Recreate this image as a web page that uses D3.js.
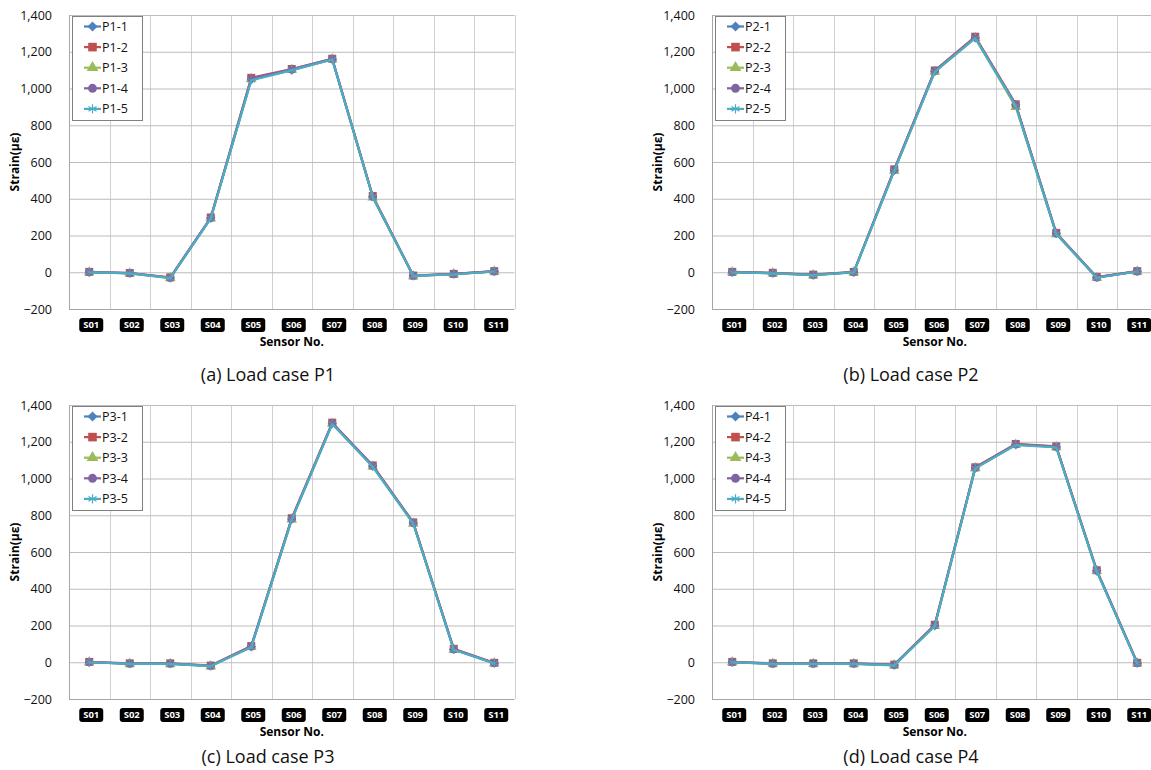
<!DOCTYPE html>
<html>
  <head>
    <meta charset="utf-8">
    <title>Strain by sensor</title>
    <script src="https://d3js.org/d3.v7.min.js"></script>
    <style>
      body { margin: 0; background: #fff; }
      svg { display: block; font-family: "Open Sans", sans-serif; }
    </style>
  </head>
  <body>
    <div class="charts"></div>
    <script>
      /*
       * data
       */
      var sensors = ["S01", "S02", "S03", "S04", "S05", "S06", "S07", "S08", "S09", "S10", "S11"];
      var yTicks = [-200, 0, 200, 400, 600, 800, 1000, 1200, 1400];
      var captions = ["(a) Load case P1", "(b) Load case P2", "(c) Load case P3", "(d) Load case P4"];

      var p1_1 = [0, -5, -30, 295, 1048, 1100, 1158, 412, -20, -10, 5];
      var p1_2 = [2, -4, -28, 298, 1058, 1106, 1162, 415, -18, -9, 6];
      var p1_3 = [0, -6, -31, 294, 1052, 1102, 1160, 408, -21, -10, 4];
      var p1_4 = [1, -5, -30, 296, 1055, 1104, 1161, 411, -19, -9, 5];
      var p1_5 = [0, -6, -32, 293, 1045, 1100, 1158, 410, -20, -11, 4];

      var p2_1 = [0, -5, -15, 0, 555, 1093, 1276, 912, 212, -28, 5];
      var p2_2 = [2, -3, -13, 2, 560, 1098, 1282, 914, 214, -26, 6];
      var p2_3 = [0, -5, -16, -1, 553, 1092, 1275, 900, 208, -30, 4];
      var p2_4 = [1, -4, -14, 1, 557, 1096, 1279, 910, 211, -28, 5];
      var p2_5 = [0, -6, -16, 0, 552, 1090, 1274, 906, 209, -30, 4];

      var p3_1 = [0, -8, -8, -20, 85, 780, 1300, 1068, 758, 70, -5];
      var p3_2 = [2, -6, -6, -18, 88, 784, 1304, 1071, 761, 73, -3];
      var p3_3 = [0, -8, -9, -21, 83, 778, 1298, 1066, 756, 69, -5];
      var p3_4 = [1, -7, -7, -19, 86, 781, 1301, 1069, 759, 71, -4];
      var p3_5 = [0, -9, -9, -21, 82, 776, 1296, 1064, 755, 68, -6];

      var p4_1 = [0, -8, -8, -8, -15, 200, 1058, 1185, 1172, 498, -5];
      var p4_2 = [2, -6, -6, -6, -13, 204, 1061, 1188, 1175, 501, -3];
      var p4_3 = [0, -8, -9, -9, -16, 198, 1056, 1184, 1171, 497, -5];
      var p4_4 = [1, -7, -7, -7, -14, 201, 1059, 1186, 1173, 499, -4];
      var p4_5 = [0, -9, -9, -9, -17, 197, 1055, 1182, 1170, 495, -6];

      var panels = [
        { prefix: "P1", series: [p1_1, p1_2, p1_3, p1_4, p1_5] },
        { prefix: "P2", series: [p2_1, p2_2, p2_3, p2_4, p2_5] },
        { prefix: "P3", series: [p3_1, p3_2, p3_3, p3_4, p3_5] },
        { prefix: "P4", series: [p4_1, p4_2, p4_3, p4_4, p4_5] }
      ];

      // Excel-ish series styling
      var colors = ["#4F81BD", "#C0504D", "#9BBB59", "#8064A2", "#4BACC6"];
      var shapes = [d3.symbolDiamond2 || d3.symbolDiamond, d3.symbolSquare, d3.symbolTriangle,
                    d3.symbolCircle, d3.symbolAsterisk || d3.symbolCross];
      var sizes = [55, 64, 50, 52, 50];

      var W = 1151, H = 770;
      var plotW = 445.5, plotH = 294;
      var lefts = [69, 712], tops = [15, 405];
      var captionY = [381, 763];

      var svg = d3.select(".charts").append("svg")
        .attr("width", W)
        .attr("height", H);

      svg.append("rect").attr("width", W).attr("height", H).attr("fill", "#fff");

      panels.forEach(function(p, pi) {
        var col = pi % 2, row = Math.floor(pi / 2);
        var g = svg.append("g")
          .attr("transform", "translate(" + lefts[col] + "," + tops[row] + ")");

        var x = d3.scaleBand().domain(sensors).range([0, plotW]);
        var y = d3.scaleLinear().domain([-200, 1400]).range([plotH, 0]);

        // vertical grid
        g.append("g").selectAll("line")
          .data(sensors.slice(1).concat(["end"]))
          .enter().append("line")
            .attr("x1", function(d, i) { return Math.round(x.step() * (i + 1)) + 0.5; })
            .attr("x2", function(d, i) { return Math.round(x.step() * (i + 1)) + 0.5; })
            .attr("y1", 0).attr("y2", plotH)
            .attr("stroke", "#d0d0d0");

        // horizontal grid + y labels via axis
        var yAxis = g.append("g")
          .call(d3.axisLeft(y).tickValues(yTicks).tickSize(-plotW).tickPadding(17)
            .tickFormat(d3.format(",")));
        yAxis.select(".domain").remove();
        yAxis.selectAll(".tick line")
          .attr("stroke", function(d) { return d === -200 ? "#a6a6a6" : "#bcbcbc"; });
        yAxis.selectAll(".tick text")
          .attr("font-family", "Open Sans, sans-serif")
          .attr("font-size", 12.5)
          .attr("fill", "#111");

        // y axis line
        g.append("line")
          .attr("x1", 0.5).attr("x2", 0.5).attr("y1", 0).attr("y2", plotH)
          .attr("stroke", "#a6a6a6");

        // sensor pills
        var pills = g.append("g").selectAll("g")
          .data(sensors)
          .enter().append("g")
            .attr("transform", function(d) {
              return "translate(" + (x(d) + x.bandwidth() / 2 + 2) + "," + (plotH + 16) + ")";
            });
        pills.append("rect")
          .attr("x", -12).attr("y", -7).attr("width", 24).attr("height", 14)
          .attr("rx", 3).attr("fill", "#000");
        pills.append("text")
          .attr("text-anchor", "middle").attr("dy", "0.35em")
          .attr("fill", "#fff").attr("font-size", 9.5).attr("font-weight", "bold")
          .text(function(d) { return d; });

        g.append("text")
          .attr("x", plotW / 2).attr("y", plotH + 37)
          .attr("text-anchor", "middle").attr("font-size", 12).attr("font-weight", "bold")
          .text("Sensor No.");

        g.append("text")
          .attr("transform", "translate(" + (-50) + "," + (plotH / 2) + ") rotate(-90)")
          .attr("text-anchor", "middle").attr("font-size", 12).attr("font-weight", "bold")
          .text("Strain(\u03bc\u03b5)");

        // series: markers first, lines on top (last one ends up visible)
        var line = d3.line()
          .x(function(d, i) { return x(sensors[i]) + x.bandwidth() / 2; })
          .y(function(d) { return y(d); });

        p.series.forEach(function(vals, si) {
          var stroked = si === 4;
          g.append("g").selectAll("path")
            .data(vals)
            .enter().append("path")
              .attr("transform", function(d, i) {
                return "translate(" + (x(sensors[i]) + x.bandwidth() / 2) + "," + y(d) + ")";
              })
              .attr("d", d3.symbol().type(shapes[si]).size(sizes[si]))
              .attr("fill", stroked ? "none" : colors[si])
              .attr("stroke", stroked ? colors[si] : "none")
              .attr("stroke-width", 1);
        });
        p.series.forEach(function(vals, si) {
          g.append("path")
            .datum(vals)
            .attr("d", line)
            .attr("fill", "none")
            .attr("stroke", colors[si])
            .attr("stroke-width", 2.2)
            .attr("stroke-linejoin", "round");
        });

        // legend
        var lg = g.append("g").attr("transform", "translate(3,1)");
        lg.append("rect")
          .attr("x", 0.5).attr("y", 0.5).attr("width", 70).attr("height", 104)
          .attr("fill", "#fff").attr("stroke", "#808080");
        p.series.forEach(function(vals, si) {
          var ly = 10.5 + si * 20.6;
          lg.append("line")
            .attr("x1", 12).attr("x2", 29).attr("y1", ly).attr("y2", ly)
            .attr("stroke", colors[si]).attr("stroke-width", 2.2);
          var stroked = si === 4;
          lg.append("path")
            .attr("transform", "translate(20.5," + ly + ")")
            .attr("d", d3.symbol().type(shapes[si]).size(sizes[si] + 10))
            .attr("fill", stroked ? "none" : colors[si])
            .attr("stroke", stroked ? colors[si] : "none")
            .attr("stroke-width", 1.2);
          lg.append("text")
            .attr("x", 30).attr("y", ly).attr("dy", "0.36em")
            .attr("font-size", 12.5).attr("fill", "#111")
            .text(p.prefix + "-" + (si + 1));
        });

        // caption
        svg.append("text")
          .attr("x", lefts[col] + 199).attr("y", captionY[row])
          .attr("text-anchor", "middle").attr("font-size", 18)
          .attr("fill", "#111")
          .text(captions[pi]);
      });
    </script>
  </body>
</html>
